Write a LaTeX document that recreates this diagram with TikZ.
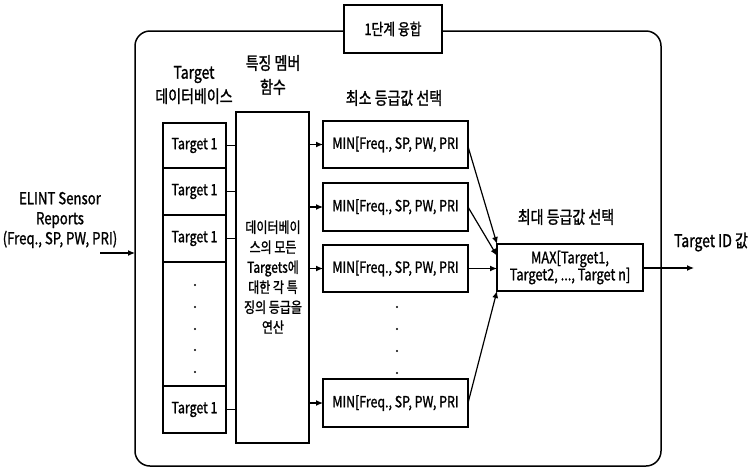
\documentclass[tikz,border=0pt]{standalone}
\usepackage{fontspec}
\setmainfont{Noto Sans CJK KR}[FakeStretch=0.8,FakeBold=1.2]
\usetikzlibrary{arrows.meta,calc}
\begin{document}
\begin{tikzpicture}[x=1pt,y=-1pt,
  every node/.style={inner sep=0pt,outer sep=0pt,font=\fontsize{15.5}{18}\selectfont},
  box/.style={draw,line width=1.5pt,fill=white,anchor=north west},
  lbl/.style={align=center,font=\fontsize{17.5}{20}\selectfont},
  arr/.style={line width=1.2pt,-{Latex[length=7pt,width=6pt]}},
  ln/.style={line width=1.2pt},
  dotm/.style={circle,fill=black,minimum size=2.4pt}]
\useasboundingbox (0,0) rectangle (751,472);
% outer frame
\node[box,rounded corners=15pt,minimum width=526pt,minimum height=435pt] (outer) at (135,31) {};
\node[box,minimum width=98pt,minimum height=48pt,font=\fontsize{16}{18}\selectfont] (title) at (344,5) {1단계 융합};
% headings
\node[lbl] (hT) at (194,85) {Target\\[4pt]데이터베이스};
\node[lbl] (hF) at (273,75) {특징 멤버\\[4pt]함수};
\node[lbl] (hMin) at (394,98) {최소 등급값 선택};
\node[lbl] (hMax) at (566,217) {최대 등급값 선택};
% target column
\node[box,minimum width=63pt,minimum height=45pt] (t1) at (163,123) {Target 1};
\node[box,minimum width=63pt,minimum height=47pt] (t2) at (163,168) {Target 1};
\node[box,minimum width=63pt,minimum height=47pt] (t3) at (163,215) {Target 1};
\node[box,minimum width=63pt,minimum height=124pt] (tdots) at (163,262) {};
\node[box,minimum width=63pt,minimum height=47pt] (t4) at (163,386) {Target 1};
\foreach \y [count=\i] in {285,307,329,350,372} \node[dotm] (td\i) at (195,\y) {};
% feature box
\node[box,minimum width=73pt,minimum height=331pt] (feat) at (236,112) {};
\node[align=center,font=\fontsize{15}{17}\selectfont] (featText) at (273,277) {데이터베이\\[3pt]스의 모든\\[3pt]Targets에\\[3pt]대한 각 특\\[3pt]징의 등급을\\[3pt]연산};
% MIN boxes
\node[box,minimum width=145pt,minimum height=47pt] (m1) at (323,121) {MIN[Freq., SP, PW, PRI};
\node[box,minimum width=145pt,minimum height=48pt] (m2) at (323,183) {MIN[Freq., SP, PW, PRI};
\node[box,minimum width=145pt,minimum height=47pt] (m3) at (323,245) {MIN[Freq., SP, PW, PRI};
\node[box,minimum width=145pt,minimum height=48pt] (m4) at (323,379) {MIN[Freq., SP, PW, PRI};
\foreach \y [count=\i] in {307,329,351,373} \node[dotm] (md\i) at (397,\y) {};
% MAX box
\node[box,minimum width=146pt,minimum height=47pt,align=center,font=\fontsize{16}{18}\selectfont] (mx) at (497,244) {MAX[Target1,\\[-1pt]Target2, ..., Target n]};
% input / output
\node[lbl,font=\fontsize{16.5}{19}\selectfont] (elint) at (60,220) {ELINT Sensor\\[1pt]Reports\\[1pt](Freq., SP, PW, PRI)};
\coordinate (inStart) at (100,253);
\coordinate (outEnd) at (694,268);
\node[lbl] (tid) at (711,242) {Target ID 값};
% connectors
\draw[arr] (inStart) -- (inStart -| outer.west);
\foreach \t in {t1,t2,t3,t4} \draw[ln] (\t.east) -- (\t.east -| feat.west);
\foreach \m in {m1,m2,m3,m4} \draw[arr] (\m.west -| feat.east) -- (\m.west);
\draw[arr] ($(m1.east)+(0,2)$) -- (mx.north west);
\draw[arr] (m2.east) -- ($(mx.north west)!0.25!(mx.south west)$);
\draw[arr] (m3.east) -- (m3.east -| mx.west);
\draw[arr] (m4.east) -- (mx.south west);
\draw[arr] (mx.east |- outEnd) -- (outEnd);
\end{tikzpicture}
\end{document}
